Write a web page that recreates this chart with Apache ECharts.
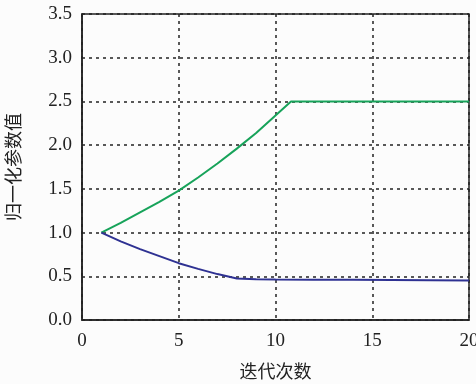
<!DOCTYPE html>
<html>
<head>
<meta charset="utf-8">
<script src="https://cdn.jsdelivr.net/npm/echarts@6/dist/echarts.min.js"></script>
<style>
  html, body { margin: 0; padding: 0; background: #fcfcfc; }
  #chart { width: 476px; height: 384px; }
</style>
</head>
<body>
<div id="chart"></div>
<script>
// data
const xTicks = [0, 5, 10, 15, 20]
const greenX = [1, 2, 3, 4, 5, 6, 7, 8, 9, 10, 10.8, 12, 14, 16, 18, 20]
const greenY = [1.0, 1.11, 1.23, 1.35, 1.48, 1.63, 1.79, 1.96, 2.14, 2.34, 2.5, 2.5, 2.5, 2.5, 2.5, 2.5]
const blueX = [1, 2, 3, 4, 5, 6, 7, 8, 9, 10, 12, 14, 16, 18, 20]
const blueY = [1.0, 0.9, 0.81, 0.73, 0.65, 0.585, 0.525, 0.475, 0.466, 0.463, 0.461, 0.459, 0.457, 0.455, 0.452]

const pairs = (xs, ys) => xs.map((x, i) => [x, ys[i]])

const chart = echarts.init(document.getElementById('chart'))
const font = 'Liberation Serif'
const cjk = 'Noto Sans CJK SC'
const dotted = { show: true, lineStyle: { color: '#222', width: 1.5, type: [3, 4] } }

chart.setOption({
  backgroundColor: '#fcfcfc',
  animation: false,
  grid: {
    left: 82, right: 7, top: 14, bottom: 64,
    outerBoundsMode: 'none',
    show: true, borderColor: '#222', borderWidth: 1.5, backgroundColor: 'transparent'
  },
  xAxis: {
    type: 'value', min: 0, max: 20, interval: 5,
    name: '迭代次数', nameLocation: 'middle', nameGap: 42,
    nameTextStyle: { fontFamily: cjk, fontSize: 18, color: '#222' },
    axisLine: { lineStyle: { color: '#222', width: 1.5 } },
    axisTick: { show: false },
    axisLabel: { fontFamily: font, fontSize: 19, color: '#222', margin: 12,
      formatter: v => xTicks.includes(v) ? String(v) : '' },
    splitLine: dotted
  },
  yAxis: {
    type: 'value', min: 0, max: 3.5, interval: 0.5,
    name: '归一化参数值', nameLocation: 'middle', nameGap: 60,
    nameTextStyle: { fontFamily: cjk, fontSize: 18, color: '#222' },
    axisLine: { lineStyle: { color: '#222', width: 1.5 } },
    axisTick: { show: false },
    axisLabel: { fontFamily: font, fontSize: 19, color: '#222', margin: 10,
      formatter: v => v.toFixed(1) },
    splitLine: dotted
  },
  series: [
    {
      type: 'line', data: pairs(greenX, greenY), showSymbol: false,
      lineStyle: { color: '#17a35a', width: 2 }, z: 3
    },
    {
      type: 'line', data: pairs(blueX, blueY), showSymbol: false,
      lineStyle: { color: '#2e3192', width: 2 }, z: 3
    }
  ]
})
</script>
</body>
</html>
